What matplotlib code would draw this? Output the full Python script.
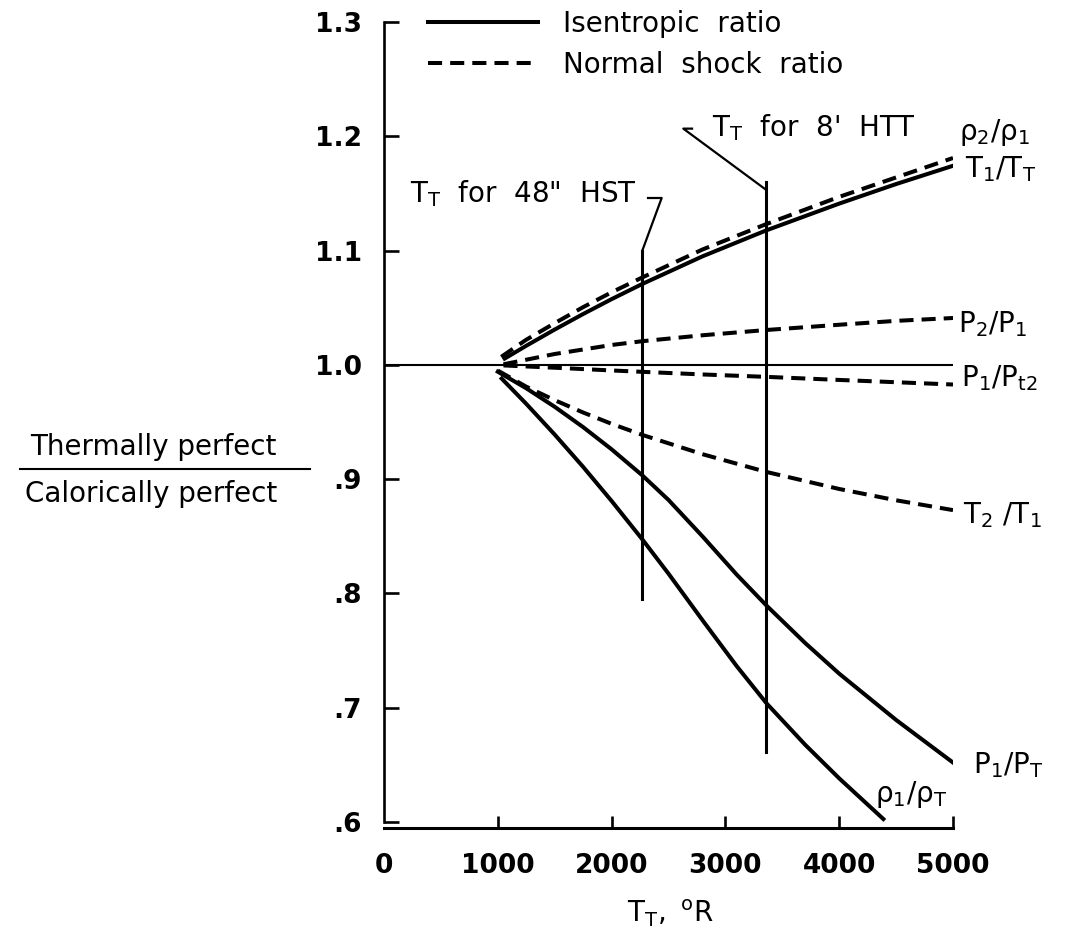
import matplotlib
matplotlib.use('Agg')
import matplotlib.pyplot as plt
from matplotlib.transforms import Affine2D
from matplotlib.lines import Line2D

# 曲线数据
# 等熵比 (实线)
tt_T1 = [1060, 1250, 1500, 1750, 2000, 2270, 2800, 3360, 4000, 4500, 5000]
T1_TT = [1.0055, 1.0167, 1.0309, 1.0445, 1.0575, 1.0708, 1.095, 1.1177, 1.1411, 1.1582, 1.1742]
tt_P1 = [1000, 1250, 1500, 1750, 2000, 2270, 2500, 2800, 3100, 3360, 3700, 4000, 4500, 5000]
P1_PT = [0.994, 0.9795, 0.9633, 0.9455, 0.9261, 0.9033, 0.8818, 0.8498, 0.8164, 0.7895,
         0.7567, 0.7298, 0.6893, 0.652]
tt_r1 = [1034, 1250, 1500, 1750, 2000, 2270, 2500, 2800, 3100, 3360, 3700, 4000, 4388]
rho1_rhoT = [0.988, 0.9659, 0.939, 0.9107, 0.8809, 0.8473, 0.8173, 0.7764, 0.7363, 0.7040,
             0.6677, 0.6382, 0.6026]

# 正激波比 (虚线)
tt_r2 = [1030, 1250, 1500, 1750, 2000, 2270, 2800, 3360, 4000, 4500, 5000]
rho2_rho1 = [1.007, 1.022, 1.0365, 1.0505, 1.0635, 1.0765, 1.101, 1.1232, 1.147, 1.164, 1.181]
tt_p = [1050, 1500, 2000, 2270, 2800, 3360, 4000, 4500, 5000]
P2_P1 = [1.0005, 1.0095, 1.0174, 1.0207, 1.0259, 1.0305, 1.0351, 1.0385, 1.041]
P1_Pt2 = [0.9995, 0.9975, 0.9951, 0.9939, 0.9916, 0.9895, 0.9868, 0.9848, 0.9828]
tt_T2 = [1000, 1250, 1500, 1750, 2000, 2270, 2800, 3360, 4000, 4500, 5000]
T2_T1 = [0.995, 0.9809, 0.9691, 0.9583, 0.9484, 0.9387, 0.9218, 0.9063, 0.8914, 0.8815, 0.8729]

# 风洞总温竖线
hst_tt = 2270
hst_y = [0.795, 1.10]
hst_leader_x = [2270, 2440, 2320]
hst_leader_y = [1.10, 1.146, 1.146]
htt_tt = 3360
htt_y = [0.661, 1.160]
htt_leader_x = [2707, 2630, 3360]
htt_leader_y = [1.2067, 1.2067, 1.153]

xticks = [0, 1000, 2000, 3000, 4000, 5000]
yticks = [0.6, 0.7, 0.8, 0.9, 1.0, 1.1, 1.2, 1.3]
ytick_labels = ['.6', '.7', '.8', '.9', '1.0', '1.1', '1.2', '1.3']

W, H = 1067, 940
fig = plt.figure(figsize=(W / 100, H / 100), dpi=100)
fig.patch.set_facecolor('white')
# 像素坐标 (左上角为原点)
pix = Affine2D().scale(1 / W, -1 / H).translate(0, 1) + fig.transFigure

ax = fig.add_axes([384 / W, 1 - 822 / H, (953 - 384) / W, (822 - 22) / H])
ax.set_xlim(0, 5000)
ax.set_ylim(0.6, 1.3)
for s in ['top', 'right']:
    ax.spines[s].set_visible(False)
ax.spines['left'].set_linewidth(1.9)
ax.spines['left'].set_bounds(0.6, 1.3)
ax.spines['bottom'].set_linewidth(2.2)
ax.spines['bottom'].set_bounds(0, 5000)
ax.spines['bottom'].set_position(('outward', 4.5))

ax.set_xticks(xticks)
ax.set_xticklabels([str(t) for t in xticks])
ax.set_yticks(yticks)
ax.set_yticklabels(ytick_labels)
ax.tick_params(axis='y', direction='in', length=11, width=1.9, pad=16,
               labelsize=19)
ax.tick_params(axis='x', direction='in', length=9, width=1.9, pad=18,
               labelsize=19)
for lab in ax.get_xticklabels() + ax.get_yticklabels():
    lab.set_fontweight('bold')
ax.xaxis.get_major_ticks()[0].tick1line.set_visible(False)

lw = 2.9
dash = (0, (3.5, 2.0))
ax.axhline(1.0, color='black', lw=1.5)
ax.plot(tt_T1, T1_TT, color='black', lw=lw)
ax.plot(tt_P1, P1_PT, color='black', lw=lw)
ax.plot(tt_r1, rho1_rhoT, color='black', lw=lw)
ax.plot(tt_r2, rho2_rho1, color='black', lw=lw, linestyle=dash)
ax.plot(tt_p, P2_P1, color='black', lw=lw, linestyle=dash)
ax.plot(tt_p, P1_Pt2, color='black', lw=lw, linestyle=dash)
ax.plot(tt_T2, T2_T1, color='black', lw=lw, linestyle=dash)

ax.plot([hst_tt, hst_tt], hst_y, color='black', lw=2.2)
ax.plot(hst_leader_x, hst_leader_y, color='black', lw=1.6)
ax.plot([htt_tt, htt_tt], htt_y, color='black', lw=2.2)
ax.plot(htt_leader_x, htt_leader_y, color='black', lw=1.6, clip_on=False)

# 图例
fig.add_artist(Line2D([428, 538], [22, 22], transform=pix, color='black', lw=lw))
fig.add_artist(Line2D([428, 538], [63, 63], transform=pix, color='black', lw=lw,
                      linestyle=dash))
fig.text(563, 32, 'Isentropic  ratio', transform=pix, fontsize=20, va='baseline')
fig.text(563, 73, 'Normal  shock  ratio', transform=pix, fontsize=20, va='baseline')

# 标注
fig.text(712, 136, r"$\mathregular{T_T}$  for  8'  HTT", transform=pix,
         fontsize=20, va='baseline')
fig.text(410, 202, r'$\mathregular{T_T}$  for  48"  HST', transform=pix,
         fontsize=20, va='baseline')

rlabels = [
    (959, 140, r'$\mathregular{ρ_2/ρ_1}$'),
    (965, 177, r'$\mathregular{T_1/T_T}$'),
    (958, 332, r'$\mathregular{P_2/P_1}$'),
    (961, 386, r'$\mathregular{P_1/P_{t2}}$'),
    (963, 523, r'$\mathregular{T_2\ /T_1}$'),
    (973, 773, r'$\mathregular{P_1/P_T}$'),
    (875, 802, r'$\mathregular{ρ_1/ρ_T}$'),
]
for x, y, s in rlabels:
    fig.text(x, y, s, transform=pix, fontsize=20, va='baseline')

# 纵轴标签 (分数形式)
fig.text(277, 455, 'Thermally perfect', transform=pix, fontsize=20,
         va='baseline', ha='right')
fig.add_artist(Line2D([20, 310], [469, 469], transform=pix, color='black', lw=1.5))
fig.text(277, 502, 'Calorically perfect', transform=pix, fontsize=20,
         va='baseline', ha='right')

# 横轴标签
fig.text(670, 922, r'$\mathregular{T_T,\ ^oR}$', transform=pix, fontsize=20,
         va='baseline', ha='center')

fig.savefig('out.png', dpi=100, facecolor='white')
